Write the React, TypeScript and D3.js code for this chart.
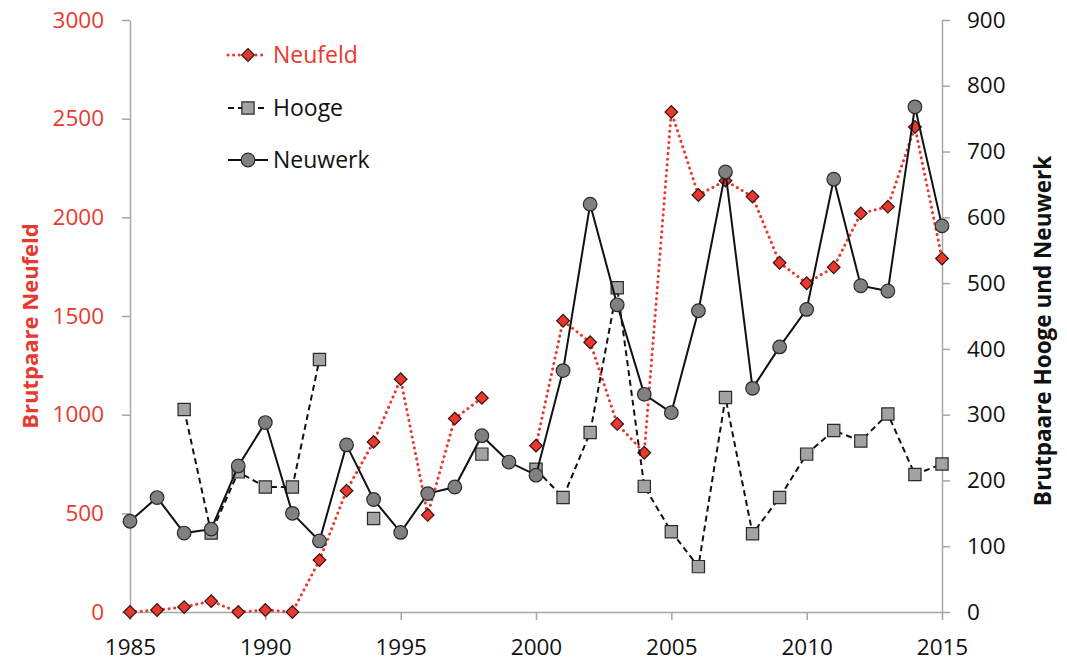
import React, { useEffect, useRef } from "react";
import * as d3 from "d3";

const years: number[] = d3.range(1985, 2016);
const neufeld: (number | null)[] = [
  0, 10, 25, 55, 0, 10, 0, 263, 615, 862, 1180, 492, 980, 1085, null,
  843, 1476, 1367, 953, 807, 2534, 2113, 2186, 2105, 1770, 1666, 1747, 2020, 2054, 2458, 1791,
];
const hooge: (number | null)[] = [
  null, null, 308, 120, 213, 190, 190, 384, null, 142, null, null, null, 240, null,
  217, 174, 273, 493, 191, 122, 69, 326, 119, 174, 240, 276, 260, 301, 209, 225,
];
const neuwerk: (number | null)[] = [
  138, 174, 120, 126, 222, 288, 150, 108, 254, 171, 121, 180, 190, 268, 228,
  208, 367, 620, 467, 331, 303, 458, 669, 340, 403, 460, 658, 496, 488, 768, 587,
];
const xTicks: number[] = [1985, 1990, 1995, 2000, 2005, 2010, 2015];
const leftTicks: number[] = [0, 500, 1000, 1500, 2000, 2500, 3000];
const rightTicks: number[] = [0, 100, 200, 300, 400, 500, 600, 700, 800, 900];
const legendLabels: string[] = ["Neufeld", "Hooge", "Neuwerk"];

const W = 1067;
const H = 661;
const RED = "#e8392f";
const FONT = "'Open Sans', Lato, sans-serif";
const FS = 22.5;

export default function App() {
  const ref = useRef<SVGSVGElement | null>(null);

  useEffect(() => {
    const svg = d3.select(ref.current);
    svg.selectAll("*").remove();

    const x = d3.scaleLinear().domain([1985, 2015]).range([130, 942]);
    const yL = d3.scaleLinear().domain([0, 3000]).range([612, 20]);
    const yR = d3.scaleLinear().domain([0, 900]).range([612, 20]);

    const axisColor = "#a6a6a6";
    const gx = svg.append("g").attr("transform", `translate(0,${yL(0)})`)
      .call(d3.axisBottom(x).tickValues(xTicks).tickFormat(d3.format("d")).tickSize(8).tickSizeOuter(0));
    gx.select(".domain").attr("stroke", axisColor).attr("stroke-width", 1.5);
    gx.selectAll(".tick line").attr("stroke", axisColor).attr("stroke-width", 1.5);
    gx.selectAll(".tick text").attr("font-family", FONT).attr("font-size", FS).attr("fill", "#111").attr("dy", "1.42em");

    const gl = svg.append("g").attr("transform", `translate(${x(1985)},0)`)
      .call(d3.axisLeft(yL).tickValues(leftTicks).tickFormat(d3.format("d")).tickSize(8).tickSizeOuter(0).tickPadding(18));
    gl.select(".domain").attr("stroke", axisColor).attr("stroke-width", 1.5);
    gl.selectAll(".tick line").attr("stroke", axisColor).attr("stroke-width", 1.5);
    gl.selectAll(".tick text").attr("font-family", FONT).attr("font-size", FS).attr("fill", RED);

    const gr = svg.append("g").attr("transform", `translate(${x(2015)},0)`)
      .call(d3.axisRight(yR).tickValues(rightTicks).tickFormat(d3.format("d")).tickSize(8).tickSizeOuter(0).tickPadding(17));
    gr.select(".domain").attr("stroke", axisColor).attr("stroke-width", 1.5);
    gr.selectAll(".tick line").attr("stroke", axisColor).attr("stroke-width", 1.5);
    gr.selectAll(".tick text").attr("font-family", FONT).attr("font-size", FS).attr("fill", "#111");

    svg.append("text")
      .attr("transform", `translate(38,326) rotate(-90)`)
      .attr("text-anchor", "middle")
      .attr("font-family", FONT).attr("font-weight", "bold").attr("font-size", 22)
      .attr("fill", RED).text("Brutpaare Neufeld");
    svg.append("text")
      .attr("transform", `translate(1051,331) rotate(-90)`)
      .attr("text-anchor", "middle")
      .attr("font-family", FONT).attr("font-weight", "bold").attr("font-size", 22.5)
      .attr("fill", "#111").text("Brutpaare Hooge und Neuwerk");

    const diamond = d3.symbol().type(d3.symbolSquare).size(80)();
    const square = d3.symbol().type(d3.symbolSquare).size(150)();

    const nf = years.map((yr, i) => ({ yr, v: neufeld[i] }));
    const lineL = d3.line<{ yr: number; v: number | null }>()
      .defined((d) => d.v !== null)
      .x((d) => x(d.yr)).y((d) => yL(d.v as number));
    svg.append("path").attr("d", lineL(nf) as string)
      .attr("fill", "none").attr("stroke", RED).attr("stroke-width", 3)
      .attr("stroke-dasharray", "0.1 5.5").attr("stroke-linecap", "round");
    svg.append("g").selectAll("path").data(nf.filter((d) => d.v !== null)).join("path")
      .attr("d", diamond)
      .attr("transform", (d) => `translate(${x(d.yr)},${yL(d.v as number)}) rotate(45)`)
      .attr("fill", RED).attr("stroke", "#3a1010").attr("stroke-width", 1.2);

    const lineR = d3.line<{ yr: number; v: number | null }>()
      .defined((d) => d.v !== null)
      .x((d) => x(d.yr)).y((d) => yR(d.v as number));

    const hg = years.map((yr, i) => ({ yr, v: hooge[i] }));
    svg.append("path").attr("d", lineR(hg) as string)
      .attr("fill", "none").attr("stroke", "#111").attr("stroke-width", 2)
      .attr("stroke-dasharray", "6 4");
    svg.append("g").selectAll("path").data(hg.filter((d) => d.v !== null)).join("path")
      .attr("d", square)
      .attr("transform", (d) => `translate(${x(d.yr)},${yR(d.v as number)})`)
      .attr("fill", "#a3a3a3").attr("stroke", "#2a2a2a").attr("stroke-width", 1.2);

    const nw = years.map((yr, i) => ({ yr, v: neuwerk[i] }));
    svg.append("path").attr("d", lineR(nw) as string)
      .attr("fill", "none").attr("stroke", "#111").attr("stroke-width", 2);
    svg.append("g").selectAll("circle").data(nw.filter((d) => d.v !== null)).join("circle")
      .attr("cx", (d) => x(d.yr)).attr("cy", (d) => yR(d.v as number)).attr("r", 6.8)
      .attr("fill", "#808080").attr("stroke", "#2a2a2a").attr("stroke-width", 1.2);

    const lg = svg.append("g");
    const rows = [55, 108, 160];
    legendLabels.forEach((lab, i) => {
      const y = rows[i];
      const g = lg.append("g");
      if (i === 0) {
        g.append("line").attr("x1", 228).attr("x2", 266).attr("y1", y).attr("y2", y)
          .attr("stroke", RED).attr("stroke-width", 3).attr("stroke-dasharray", "0.1 5.5").attr("stroke-linecap", "round");
        g.append("path").attr("d", diamond).attr("transform", `translate(248,${y}) rotate(45)`)
          .attr("fill", RED).attr("stroke", "#3a1010").attr("stroke-width", 1.2);
      } else if (i === 1) {
        g.append("line").attr("x1", 228).attr("x2", 268).attr("y1", y).attr("y2", y)
          .attr("stroke", "#111").attr("stroke-width", 2).attr("stroke-dasharray", "6 4");
        g.append("path").attr("d", square).attr("transform", `translate(248,${y})`)
          .attr("fill", "#a3a3a3").attr("stroke", "#2a2a2a").attr("stroke-width", 1.2);
      } else {
        g.append("line").attr("x1", 228).attr("x2", 268).attr("y1", y).attr("y2", y)
          .attr("stroke", "#111").attr("stroke-width", 2);
        g.append("circle").attr("cx", 248).attr("cy", y).attr("r", 6.8)
          .attr("fill", "#808080").attr("stroke", "#2a2a2a").attr("stroke-width", 1.2);
      }
      g.append("text").attr("x", 273).attr("y", y).attr("dy", "0.35em")
        .attr("font-family", FONT).attr("font-size", 23)
        .attr("fill", i === 0 ? RED : "#111").text(lab);
    });
  }, []);

  return (
    <svg ref={ref} width={W} height={H}
      style={{ position: "absolute", left: 0, top: 0, background: "#fff" }} />
  );
}
